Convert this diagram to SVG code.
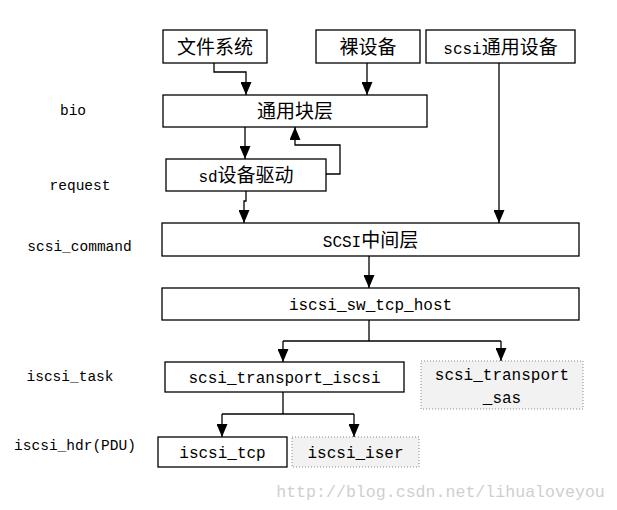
<svg xmlns="http://www.w3.org/2000/svg" width="617" height="510" viewBox="0 0 617 510">
<style>
.box{fill:#fff;stroke:#000;stroke-width:1.3}
.dbox{fill:#f2f2f2;stroke:#888;stroke-width:1;stroke-dasharray:1 2}
.t{font-family:"Liberation Mono","Noto Sans CJK SC",monospace;font-size:16px;fill:#000;text-anchor:middle}
.cj{font-family:"Noto Sans CJK SC",sans-serif;font-size:19px}
.lbl{font-family:"Liberation Mono",monospace;font-size:14.5px;fill:#000;text-anchor:middle}
.c{fill:none;stroke:#000;stroke-width:1.3}
.wm{font-family:"Liberation Mono",monospace;font-size:16.6px;fill:#cfcfcf;text-anchor:middle}
</style>
<defs>
<marker id="ah" markerUnits="userSpaceOnUse" viewBox="0 0 13 11" markerWidth="13" markerHeight="11" refX="13" refY="5.5" orient="auto">
<path d="M0,0 L13,5.5 L0,11 z" fill="#000"/>
</marker>
</defs>
<rect width="617" height="510" fill="#fff"/>
<g id="labels">
<text class="lbl" x="73" y="115">bio</text>
<text class="lbl" x="80" y="190">request</text>
<text class="lbl" x="79.5" y="251">scsi_command</text>
<text class="lbl" x="70" y="381">iscsi_task</text>
<text class="lbl" x="75" y="450">iscsi_hdr(PDU)</text>
</g>
<g id="connectors">
<path class="c" d="M214,63 V72 H246 V95" marker-end="url(#ah)"/>
<path class="c" d="M367,63 V95" marker-end="url(#ah)"/>
<path class="c" d="M499,63 V223" marker-end="url(#ah)"/>
<path class="c" d="M245,127 V159" marker-end="url(#ah)"/>
<path class="c" d="M326,174 H340 V145 H295 V127" marker-end="url(#ah)"/>
<path class="c" d="M246,191 V201 H244 V223" marker-end="url(#ah)"/>
<path class="c" d="M369,256 V288" marker-end="url(#ah)"/>
<path class="c" d="M369,320 V341"/>
<path class="c" d="M283,341 H501"/>
<path class="c" d="M283,341 V362" marker-end="url(#ah)"/>
<path class="c" d="M501,341 V361" marker-end="url(#ah)"/>
<path class="c" d="M283,392 V414"/>
<path class="c" d="M222,414 H354"/>
<path class="c" d="M222,414 V437" marker-end="url(#ah)"/>
<path class="c" d="M354,414 V437" marker-end="url(#ah)"/>
</g>
<g id="n_fs"><rect class="box" x="163" y="30" width="104" height="33"/><text class="t" x="215" y="54"><tspan class="cj">文件系统</tspan></text></g>
<g id="n_raw"><rect class="box" x="316" y="30" width="104" height="33"/><text class="t" x="368" y="54"><tspan class="cj">裸设备</tspan></text></g>
<g id="n_sg"><rect class="box" x="426" y="30" width="149" height="33"/><text class="t" x="500.5" y="54">scsi<tspan class="cj">通用设备</tspan></text></g>
<g id="n_block"><rect class="box" x="163" y="95" width="264" height="32"/><text class="t" x="295" y="118"><tspan class="cj">通用块层</tspan></text></g>
<g id="n_sd"><rect class="box" x="166" y="159" width="160" height="32"/><text class="t" x="246" y="182">sd<tspan class="cj">设备驱动</tspan></text></g>
<g id="n_mid"><rect class="box" x="162" y="223" width="417" height="33"/><text class="t" x="370.5" y="246.5">SCSI<tspan class="cj">中间层</tspan></text></g>
<g id="n_host"><rect class="box" x="162" y="288" width="417" height="32"/><text class="t" x="370.5" y="310">iscsi_sw_tcp_host</text></g>
<g id="n_tiscsi"><rect class="box" x="165" y="362" width="239" height="30"/><text class="t" x="284.5" y="382.5">scsi_transport_iscsi</text></g>
<g id="n_tsas"><rect class="dbox" x="421" y="361" width="162" height="48"/><text class="t" x="502" y="380">scsi_transport</text><text class="t" x="502" y="403">_sas</text></g>
<g id="n_tcp"><rect class="box" x="158" y="437" width="129" height="30"/><text class="t" x="222.5" y="457.5">iscsi_tcp</text></g>
<g id="n_iser"><rect class="dbox" x="292" y="437" width="127" height="30"/><text class="t" x="355.5" y="457.5">iscsi_iser</text></g>
<text class="wm" x="440.5" y="497">http://blog.csdn.net/lihualoveyou</text>
</svg>
